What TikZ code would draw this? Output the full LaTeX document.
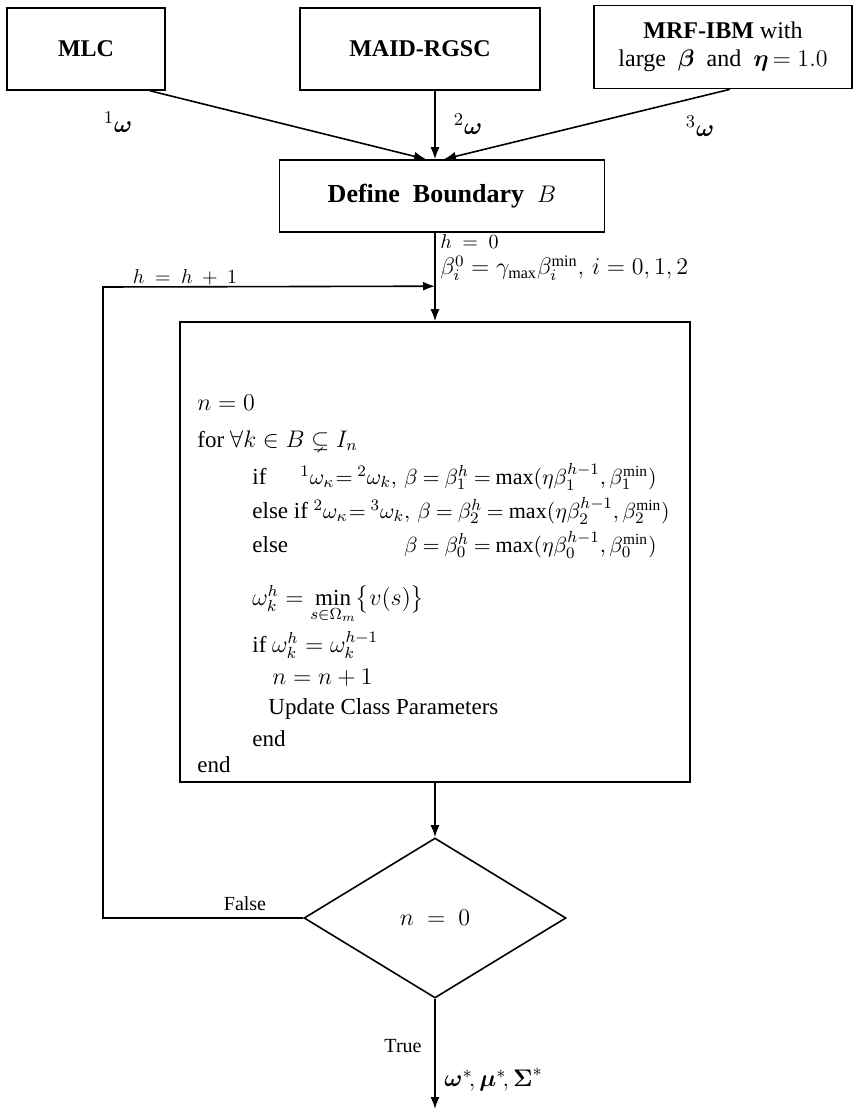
\documentclass[tikz,border=0pt]{standalone}
\usepackage{fontspec}
\setmainfont{Liberation Serif}
\usepackage{amsmath}
\usepackage{amssymb}
\usepackage{bm}
\usetikzlibrary{positioning, arrows.meta, calc, shapes.geometric}
\newcommand{\tightmath}{\thickmuskip=4mu\relax}

\begin{document}
\begin{tikzpicture}[
			x=0.5pt,
			y=-0.5pt,
			box/.style={
				draw,
				rectangle,
				line width=0.8pt,
				inner sep=2pt,
				font=\fontsize{12}{14}\selectfont
			},
			test/.style={
				draw,
				diamond,
				line width=0.8pt,
				inner sep=0pt,
				minimum width=131pt,
				minimum height=80pt,
				font=\fontsize{13}{15}\selectfont
			},
			lbl/.style={
				inner sep=1pt,
				font=\fontsize{10}{12}\selectfont
			},
			wlbl/.style={
				inner sep=1pt,
				font=\fontsize{13}{15}\selectfont
			},
			line/.style={
				inner sep=0pt,
				anchor=base west,
				font=\fontsize{11.5}{13}\selectfont
			},
			eqn/.style={
				inner sep=0pt,
				anchor=base west,
				font=\fontsize{11}{12}\selectfont\tightmath
			},
			arr/.style={
				line width=0.8pt,
				-{Latex[length=6pt,width=4.5pt]}
			}
			]
			\useasboundingbox (0,0) rectangle (856,1112);
			
			% Boxes
			\node[box, minimum width=79pt, minimum height=41pt] (mlc) at (86,49) {\textbf{MLC}};
			\node[box, minimum width=120pt, minimum height=41pt] (maid) at (420,49) {\textbf{MAID-RGSC}};
			\node[box, minimum width=129pt, minimum height=41.5pt, align=center] (mrf) at (723,47)
				{\textbf{MRF-IBM}\ with\\ large\ \ {\large$\bm{\beta}$}\ \ and\ \ {\large$\bm{\eta}$}$\,=1.0$};
			\node[box, minimum width=162.5pt, minimum height=36pt, font=\fontsize{13}{15}\selectfont] (bnd) at (442,196) {\textbf{Define\ \ Boundary}\ \ $B$};
			\node[box, minimum width=255pt, minimum height=230pt] (alg) at (435,552) {};
			\node[test] (chk) at (435,918) {$n\ =\ 0$};
			
			% Points
			\coordinate (join) at (bnd.north -| alg.north);
			\coordinate (merge) at ($(alg.north)+(0,-35)$);
			\coordinate (turn) at (103,287);
			\coordinate (out) at (435,1109);
			
			% Algorithm
			\node[line] (l1) at (197,410) {$n=0$};
			\node[line] (l2) at (197,447) {for $\forall k\in B\subsetneq I_n$};
			\node[line] (l3) at (252,484) {if};
			\node[eqn] (f3) at (300,484) {${}^1\omega_\kappa\!={}^2\omega_k,\,\beta=\beta_1^h=\max(\eta\beta_1^{h-1},\beta_1^{\min})$};
			\node[line] (l4) at (252,518) {else if};
			\node[eqn] (f4) at (l4.base east) {$\;{}^2\omega_\kappa\!={}^3\omega_k,\,\beta=\beta_2^h=\max(\eta\beta_2^{h-1},\beta_2^{\min})$};
			\node[line] (l5) at (252,552) {else};
			\node[eqn, anchor=base east] (f5) at (f3.base east |- 0,552) {$\beta=\beta_0^h=\max(\eta\beta_0^{h-1},\beta_0^{\min})$};
			\node[line] (l6) at (252,605) {$\omega_k^h=\min\limits_{s\in\Omega_m}\bigl\{v(s)\bigr\}$};
			\node[line] (l7) at (252,652) {if $\omega_k^h=\omega_k^{h-1}$};
			\node[line] (l8) at (272,684) {$n=n+1$};
			\node[line] (l9) at (268,714) {Update Class Parameters};
			\node[line] (l10) at (252,746) {end};
			\node[line] (l11) at (197,772) {end};
			
			% Labels
			\node[wlbl] (w1) at (118,122) {${}^1\bm{\omega}$};
			\node[wlbl] (w2) at (468,124) {${}^2\bm{\omega}$};
			\node[wlbl] (w3) at (700,126) {${}^3\bm{\omega}$};
			\node[lbl, anchor=west, inner sep=0pt] (h0) at (440,242) {$h\ =\ 0$};
			\node[lbl, anchor=west, inner sep=0pt, font=\fontsize{11.5}{13}\selectfont] (b0) at (440,268) {$\beta_i^0=\gamma_{\max}\beta_i^{\min},\,i=0,1,2$};
			\node[lbl] (inc) at (185,277) {$h\ =\ h\ +\ 1$};
			\node[lbl] (fls) at (245,904) {False};
			\node[lbl] (tru) at (403,1046) {True};
			\node[wlbl, anchor=west] (res) at (442,1080) {$\bm{\omega}^*\!,\bm{\mu}^*\!,\bm{\Sigma}^*$};
			
			% Connectors
			\draw[arr] ($(mlc.south)+(64,0)$) -- ($(join)+(-9,0)$);
			\draw[arr] (maid.south -| join) -- (join);
			\draw[arr] ($(mrf.south)+(7,0)$) -- ($(join)+(9,0)$);
			\draw[arr] (bnd.south -| alg.north) -- (alg.north);
			\draw[arr] (chk.west) -| (turn) -- (merge);
			\draw[arr] (alg.south) -- (chk.north);
			\draw[arr] (chk.south) -- (out);
		\end{tikzpicture}
\end{document}
